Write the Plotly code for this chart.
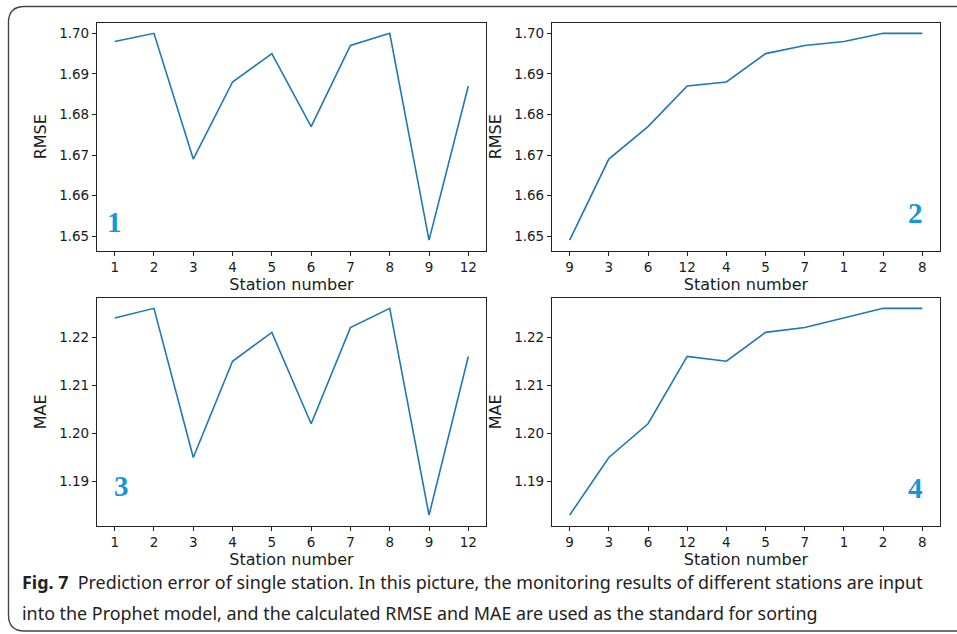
import numpy as np
import plotly.graph_objects as go

# ---- data ----
stations = ["1", "2", "3", "4", "5", "6", "7", "8", "9", "12"]
rmse = [1.698, 1.700, 1.669, 1.688, 1.695, 1.677, 1.697, 1.700, 1.649, 1.687]
mae = [1.224, 1.226, 1.195, 1.215, 1.221, 1.202, 1.222, 1.226, 1.183, 1.216]

sorted_stations = ["9", "3", "6", "12", "4", "5", "7", "1", "2", "8"]
rmse_sorted = [1.649, 1.669, 1.677, 1.687, 1.688, 1.695, 1.697, 1.698, 1.700, 1.700]
mae_sorted = [1.183, 1.195, 1.202, 1.216, 1.215, 1.221, 1.222, 1.224, 1.226, 1.226]

panel_labels = ["1", "2", "3", "4"]
x_title = "Station number"
caption_bold = "Fig. 7"
caption_line1 = "Prediction error of single station. In this picture, the monitoring results of different stations are input"
caption_line2 = "into the Prophet model, and the calculated RMSE and MAE are used as the standard for sorting"

W, H = 957, 634
LINE = "#1f77b4"
TXT = "#1a1a1a"
BLUE_LABEL = "#1596d6"


def px_x(p):
    return p / W


def px_y(p):
    return 1 - p / H


fig = go.Figure()

panels = [
    (stations, rmse, "x", "y"),
    (sorted_stations, rmse_sorted, "x2", "y2"),
    (stations, mae, "x3", "y3"),
    (sorted_stations, mae_sorted, "x4", "y4"),
]
for xs, ys, xa, ya in panels:
    fig.add_trace(go.Scatter(x=xs, y=ys, mode="lines", xaxis=xa, yaxis=ya,
                             line=dict(color=LINE, width=1.6), showlegend=False,
                             hoverinfo="skip"))

xdom_left = [px_x(97), px_x(486)]
xdom_right = [px_x(552), px_x(940)]
ydom_top = [px_y(250.5), px_y(23)]
ydom_bot = [px_y(525.5), px_y(298)]

font_family = "DejaVu Sans"
tickfont = dict(family=font_family, size=13.5, color=TXT)
titlefont = dict(family=font_family, size=16, color=TXT)


def yrange(vals):
    lo, hi = min(vals), max(vals)
    pad = (hi - lo) * 0.05
    return [lo - pad, hi + pad]


def xaxis(dom, anchor, cats):
    return dict(domain=dom, anchor=anchor, type="category",
                categoryorder="array", categoryarray=cats,
                range=[-0.45, len(cats) - 1 + 0.45],
                showline=True, mirror=True, linecolor="#222", linewidth=1.2,
                ticks="outside", ticklen=4, tickwidth=1, tickcolor="#222",
                tickfont=tickfont, showgrid=False, zeroline=False,
                title=dict(text=x_title, font=titlefont, standoff=3))


def yaxis(dom, anchor, vals, title, tick0):
    return dict(domain=dom, anchor=anchor, range=yrange(vals),
                tick0=tick0, dtick=0.01, tickformat=".2f",
                showline=True, mirror=True, linecolor="#222", linewidth=1.2,
                ticks="outside", ticklen=4, tickwidth=1, tickcolor="#222",
                tickfont=tickfont, showgrid=False, zeroline=False,
                title=dict(text=title, font=titlefont, standoff=8))


fig.update_layout(
    width=W, height=H, autosize=False,
    margin=dict(l=0, r=0, t=0, b=0),
    paper_bgcolor="white", plot_bgcolor="white",
    xaxis=xaxis(xdom_left, "y", stations),
    yaxis=yaxis(ydom_top, "x", rmse, "RMSE", 1.65),
    xaxis2=xaxis(xdom_right, "y2", sorted_stations),
    yaxis2=yaxis(ydom_top, "x2", rmse_sorted, "RMSE", 1.65),
    xaxis3=xaxis(xdom_left, "y3", stations),
    yaxis3=yaxis(ydom_bot, "x3", mae, "MAE", 1.19),
    xaxis4=xaxis(xdom_right, "y4", sorted_stations),
    yaxis4=yaxis(ydom_bot, "x4", mae_sorted, "MAE", 1.19),
)

# panel number labels
label_pos = [(114, 222), (915, 213), (121, 486), (915, 488)]
for lab, (lx, ly) in zip(panel_labels, label_pos):
    fig.add_annotation(text="<b>%s</b>" % lab, x=px_x(lx), y=px_y(ly),
                       xref="paper", yref="paper", showarrow=False,
                       xanchor="center", yanchor="middle",
                       font=dict(family="Liberation Serif", size=29, color=BLUE_LABEL))

# caption
cap_font = dict(family="Noto Sans", size=17.9, color="#222")
fig.add_annotation(text="<b>%s</b>  %s" % (caption_bold, caption_line1),
                   x=px_x(20), y=px_y(582), xref="paper", yref="paper",
                   showarrow=False, xanchor="left", yanchor="middle", font=cap_font)
fig.add_annotation(text=caption_line2,
                   x=px_x(20), y=px_y(613), xref="paper", yref="paper",
                   showarrow=False, xanchor="left", yanchor="middle", font=cap_font)

# outer rounded frame
x0, y0, x1, y1, r = 8.5, 6.5, 975, 631, 16
path = ("M {a},{b} L {c},{b} L {c},{d} L {e},{d} Q {f},{d} {f},{g} L {f},{h} Q {f},{b} {a},{b} Z")
pts = dict(a=px_x(x0 + r), b=px_y(y0), c=px_x(x1), d=px_y(y1), e=px_x(x0 + r),
           f=px_x(x0), g=px_y(y1 - r), h=px_y(y0 + r))
fig.add_shape(type="path", path=path.format(**pts), xref="paper", yref="paper",
              line=dict(color="#444", width=1.4), fillcolor="rgba(0,0,0,0)", layer="below")

fig.write_html("out.html", config={"displayModeBar": False},
               post_script="document.body.style.margin='0';document.body.style.padding='0';")
